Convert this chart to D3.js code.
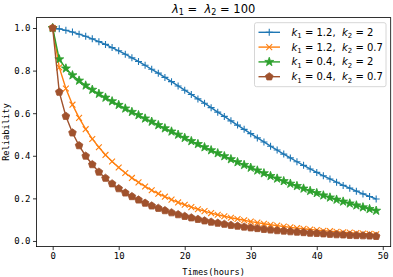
<!DOCTYPE html>
<html>
<head>
<meta charset="utf-8">
<script src="https://cdn.jsdelivr.net/npm/d3@7"></script>
<style>
  body { margin: 0; background: #fff; }
  svg { display: block; }
  text { white-space: pre; }
</style>
</head>
<body>
<svg id="chart"></svg>
<script>
// hours on the x axis
const times = [0, 1, 2, 3, 4, 5, 6, 7, 8, 9, 10, 11, 12, 13, 14, 15, 16, 17, 18, 19,
  20, 21, 22, 23, 24, 25, 26, 27, 28, 29, 30, 31, 32, 33, 34, 35, 36, 37, 38, 39,
  40, 41, 42, 43, 44, 45, 46, 47, 48, 49];

// reliability
const relK12K2 = [1.0, 0.996, 0.989, 0.981, 0.971, 0.961, 0.949, 0.936, 0.923, 0.908,
  0.893, 0.877, 0.860, 0.843, 0.825, 0.806, 0.788, 0.768, 0.748, 0.728,
  0.708, 0.688, 0.667, 0.647, 0.626, 0.605, 0.585, 0.564, 0.544, 0.524,
  0.504, 0.484, 0.465, 0.445, 0.427, 0.408, 0.390, 0.372, 0.355, 0.338,
  0.322, 0.306, 0.291, 0.276, 0.261, 0.248, 0.234, 0.221, 0.209, 0.197];
const relK12K07 = [1.0, 0.815, 0.716, 0.640, 0.578, 0.525, 0.479, 0.440, 0.404, 0.373,
  0.345, 0.319, 0.296, 0.275, 0.256, 0.238, 0.222, 0.208, 0.194, 0.181,
  0.170, 0.159, 0.149, 0.140, 0.131, 0.123, 0.116, 0.109, 0.103, 0.097,
  0.091, 0.086, 0.081, 0.076, 0.072, 0.068, 0.064, 0.060, 0.057, 0.054,
  0.051, 0.048, 0.046, 0.043, 0.041, 0.039, 0.037, 0.035, 0.033, 0.031];
const relK04K2 = [1.0, 0.853, 0.810, 0.778, 0.753, 0.730, 0.710, 0.691, 0.673, 0.656,
  0.639, 0.622, 0.606, 0.591, 0.575, 0.560, 0.544, 0.529, 0.514, 0.499,
  0.484, 0.469, 0.455, 0.440, 0.426, 0.412, 0.398, 0.384, 0.370, 0.357,
  0.344, 0.331, 0.318, 0.305, 0.293, 0.281, 0.269, 0.258, 0.246, 0.235,
  0.225, 0.214, 0.204, 0.194, 0.185, 0.176, 0.167, 0.158, 0.150, 0.142];
const relK04K07 = [1.0, 0.699, 0.586, 0.508, 0.448, 0.399, 0.359, 0.324, 0.295, 0.269,
  0.246, 0.226, 0.209, 0.193, 0.178, 0.165, 0.154, 0.143, 0.133, 0.124,
  0.116, 0.109, 0.102, 0.095, 0.089, 0.084, 0.079, 0.074, 0.070, 0.066,
  0.062, 0.059, 0.055, 0.052, 0.049, 0.047, 0.044, 0.042, 0.040, 0.037,
  0.036, 0.034, 0.032, 0.030, 0.029, 0.027, 0.026, 0.025, 0.024, 0.022];

const seriesK1 = ["1.2", "1.2", "0.4", "0.4"];
const seriesK2 = ["2", "0.7", "2", "0.7"];
const seriesColors = ["#1f77b4", "#ff7f0e", "#2ca02c", "#a0522d"];
const seriesMarkers = ["plus", "times", "star", "pentagon"];
const xTicks = [0, 10, 20, 30, 40, 50];
const yTicks = [0.0, 0.2, 0.4, 0.6, 0.8, 1.0];

const seriesValues = [relK12K2, relK12K07, relK04K2, relK04K07];

// marker shapes, size is used as half width
const markerTypes = {
  plus: { draw(ctx, r) { ctx.moveTo(-r, 0); ctx.lineTo(r, 0); ctx.moveTo(0, -r); ctx.lineTo(0, r); } },
  times: { draw(ctx, r) { const a = r * 0.75; ctx.moveTo(-a, -a); ctx.lineTo(a, a); ctx.moveTo(-a, a); ctx.lineTo(a, -a); } },
  star: { draw(ctx, r) {
    for (let i = 0; i < 10; i++) {
      const rr = i % 2 ? r * 0.4 : r;
      const ang = -Math.PI / 2 + i * Math.PI / 5;
      i ? ctx.lineTo(rr * Math.cos(ang), rr * Math.sin(ang)) : ctx.moveTo(rr * Math.cos(ang), rr * Math.sin(ang));
    }
    ctx.closePath();
  } },
  pentagon: { draw(ctx, r) {
    for (let i = 0; i < 5; i++) {
      const ang = -Math.PI / 2 + i * 2 * Math.PI / 5;
      i ? ctx.lineTo(r * Math.cos(ang), r * Math.sin(ang)) : ctx.moveTo(r * Math.cos(ang), r * Math.sin(ang));
    }
    ctx.closePath();
  } }
};
const markerSize = { plus: 3.5, times: 3.9, star: 4.7, pentagon: 4.0 };
const markerFilled = { plus: false, times: false, star: true, pentagon: true };

// write mathtext-like labels: [text, italic, subscript]
function mathText(sel, parts) {
  let shifted = false;
  parts.forEach(p => {
    const t = sel.append("tspan").text(p[0]);
    if (p[1]) t.style("font-style", "italic");
    if (p[2]) { t.attr("dy", 2.5).style("font-size", "0.7em"); shifted = true; }
    else if (shifted) { t.attr("dy", -2.5); shifted = false; }
  });
}

const W = 393, H = 277;
const margin = { left: 36.5, right: 390.7, top: 17.6, bottom: 246.6 };

const svg = d3.select("#chart").attr("width", W).attr("height", H);

const xScale = d3.scaleLinear().domain([-2.45, 51.2]).range([margin.left, margin.right]);
const yScale = d3.scaleLinear().domain([-0.0265, 1.0489]).range([margin.bottom, margin.top]);

const tickFont = "'DejaVu Sans Mono', monospace";

// x axis
const xAxis = svg.append("g")
  .attr("transform", `translate(0,${margin.bottom})`)
  .call(d3.axisBottom(xScale).tickValues(xTicks).tickSize(3.5).tickPadding(2.5));
xAxis.select(".domain").remove();
xAxis.selectAll("text").style("font-family", tickFont).style("font-size", "9px").attr("fill", "#000");
xAxis.selectAll("line").attr("stroke", "#000").attr("stroke-width", 0.8);

// y axis
const yAxis = svg.append("g")
  .attr("transform", `translate(${margin.left},0)`)
  .call(d3.axisLeft(yScale).tickValues(yTicks).tickFormat(d3.format(".1f")).tickSize(3.5).tickPadding(2.5));
yAxis.select(".domain").remove();
yAxis.selectAll("text").style("font-family", tickFont).style("font-size", "9px").attr("fill", "#000");
yAxis.selectAll("line").attr("stroke", "#000").attr("stroke-width", 0.8);

// clip for the plot area
svg.append("clipPath").attr("id", "plot-clip")
  .append("rect")
  .attr("x", margin.left).attr("y", margin.top)
  .attr("width", margin.right - margin.left).attr("height", margin.bottom - margin.top);

const plot = svg.append("g").attr("clip-path", "url(#plot-clip)");

const line = d3.line().x(d => xScale(d[0])).y(d => yScale(d[1]));

seriesValues.forEach((vals, i) => {
  const pts = times.map((t, j) => [t, vals[j]]);
  const color = seriesColors[i];
  const mk = seriesMarkers[i];
  const g = plot.append("g");
  g.append("path")
    .datum(pts)
    .attr("d", line)
    .attr("fill", "none")
    .attr("stroke", color)
    .attr("stroke-width", 1.4);
  g.selectAll("path.mk")
    .data(pts)
    .enter()
    .append("path")
    .attr("class", "mk")
    .attr("transform", d => `translate(${xScale(d[0])},${yScale(d[1])})`)
    .attr("d", d3.symbol().type(markerTypes[mk]).size(markerSize[mk]))
    .attr("fill", markerFilled[mk] ? color : "none")
    .attr("stroke", color)
    .attr("stroke-width", markerFilled[mk] ? 0.8 : 1.1);
});

// frame
svg.append("rect")
  .attr("x", margin.left).attr("y", margin.top)
  .attr("width", margin.right - margin.left).attr("height", margin.bottom - margin.top)
  .attr("fill", "none").attr("stroke", "#000").attr("stroke-width", 0.8);

// title
const title = svg.append("text")
  .attr("x", (margin.left + margin.right) / 2)
  .attr("y", 12.5)
  .attr("text-anchor", "middle")
  .style("font-family", "'DejaVu Sans', sans-serif")
  .style("font-size", "11.5px")
  .attr("fill", "#000");
mathText(title, [["λ", true], ["1", false, true], [" =  ", false], ["λ", true], ["2", false, true], [" = 100", false]]);

// axis labels
svg.append("text")
  .attr("x", (margin.left + margin.right) / 2)
  .attr("y", 274.5)
  .attr("text-anchor", "middle")
  .style("font-family", tickFont)
  .style("font-size", "8.7px")
  .text("Times(hours)");

svg.append("text")
  .attr("text-anchor", "middle")
  .attr("transform", `translate(9,${(margin.top + margin.bottom) / 2}) rotate(-90)`)
  .style("font-family", tickFont)
  .style("font-size", "8.7px")
  .text("Reliability");

// legend
const legend = svg.append("g").attr("transform", "translate(254.5,22.7)");
legend.append("rect")
  .attr("width", 131.5).attr("height", 64)
  .attr("rx", 2)
  .attr("fill", "#fff").attr("fill-opacity", 0.8)
  .attr("stroke", "#ccc").attr("stroke-width", 0.8);

seriesColors.forEach((color, i) => {
  const row = legend.append("g").attr("transform", `translate(0,${9.6 + i * 14.8})`);
  const mk = seriesMarkers[i];
  row.append("line")
    .attr("x1", 4).attr("x2", 25.5)
    .attr("stroke", color).attr("stroke-width", 1.4);
  row.append("path")
    .attr("transform", "translate(14.75,0)")
    .attr("d", d3.symbol().type(markerTypes[mk]).size(markerSize[mk]))
    .attr("fill", markerFilled[mk] ? color : "none")
    .attr("stroke", color)
    .attr("stroke-width", markerFilled[mk] ? 0.8 : 1.1);
  const label = row.append("text")
    .attr("x", 37)
    .attr("y", 3.5)
    .style("font-family", "'DejaVu Sans', sans-serif")
    .style("font-size", "10px")
    .attr("fill", "#000");
  mathText(label, [["k", true], ["1", false, true], [" = " + seriesK1[i] + ",  ", false], ["k", true], ["2", false, true], [" = " + seriesK2[i], false]]);
});
</script>
</body>
</html>
